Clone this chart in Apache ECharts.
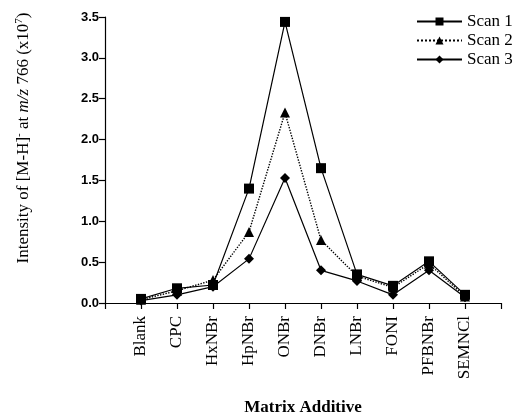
<!DOCTYPE html>
<html>
<head>
<meta charset="utf-8">
<script src="https://cdn.jsdelivr.net/npm/echarts@6/dist/echarts.min.js"></script>
<style>html,body{margin:0;padding:0;background:#fff;}#c{width:521px;height:418px;}</style>
</head>
<body>
<div id="c"></div>
<script>
const categories = ['Blank','CPC','HxNBr','HpNBr','ONBr','DNBr','LNBr','FONI','PFBNBr','SEMNCl'];
const scan1 = [0.05, 0.18, 0.22, 1.40, 3.44, 1.65, 0.35, 0.21, 0.51, 0.10];
const scan2 = [0.04, 0.15, 0.28, 0.87, 2.33, 0.77, 0.33, 0.19, 0.48, 0.08];
const scan3 = [0.03, 0.10, 0.20, 0.54, 1.53, 0.40, 0.27, 0.10, 0.40, 0.07];
const yTicks = ['0.0','0.5','1.0','1.5','2.0','2.5','3.0','3.5'];

const serif = '"Liberation Serif", "DejaVu Serif", serif';
const sans = '"Liberation Sans", Arial, sans-serif';

function pts(arr){ return arr.map((v,i)=>[i+1, v]); }

const chart = echarts.init(document.getElementById('c'), null, {renderer:'canvas'});
const mk = (name, data, symbol, size, type) => ({
  name, type:'line', data: pts(data), symbol, symbolSize: size,
  itemStyle:{color:'#000'},
  lineStyle:{color:'#000', width: type==='dotted'?1.4:1.2, type},
  emphasis:{disabled:true}, animation:false
});
chart.setOption({
  animation:false,
  legend:{
    orient:'vertical', left:411, top:8, itemWidth:45, itemHeight:10, itemGap:2,
    textStyle:{fontFamily:serif, fontSize:17, color:'#000'},
    data:['Scan 1','Scan 2','Scan 3']
  },
  grid:{left:105, right:20, top:17, bottom:115, containLabel:false, outerBoundsMode:'none'},
  xAxis:{
    type:'value', min:0, max:11, interval:1,
    name:'Matrix Additive', nameLocation:'middle', nameGap:96,
    nameTextStyle:{fontFamily:serif, fontSize:17, fontWeight:'bold', color:'#000'},
    axisLine:{lineStyle:{color:'#000', width:1.2}},
    axisTick:{show:true, length:6, lineStyle:{color:'#000', width:1.2}},
    axisLabel:{rotate:90, margin:13, fontFamily:serif, fontSize:17, color:'#000',
      formatter:(v)=> (v>=1 && v<=categories.length) ? categories[v-1] : ''},
    splitLine:{show:false}
  },
  yAxis:{
    type:'value', min:0, max:3.5, interval:0.5,
    name:'Intensity of [M-H]{sup|-} at {it|m/z} 766 (x10{sup|7})',
    nameLocation:'middle', nameGap:71, nameRotate:90,
    nameTextStyle:{fontFamily:serif, fontSize:17, color:'#000', align:'center',
      padding:[0,0,0,44],
      rich:{
        sup:{fontFamily:serif, fontSize:11, color:'#000', padding:[0,0,9,0]},
        it:{fontFamily:serif, fontSize:17, fontStyle:'italic', color:'#000'}
      }},
    axisLine:{show:true, lineStyle:{color:'#000', width:1.2}},
    axisTick:{show:true, length:6, lineStyle:{color:'#000', width:1.2}},
    axisLabel:{margin:6, fontFamily:sans, fontWeight:'bold', fontSize:13, color:'#000',
      formatter:(v)=> yTicks[Math.round(v/0.5)]},
    splitLine:{show:false}
  },
  series:[
    mk('Scan 1', scan1, 'rect', 10, 'solid'),
    mk('Scan 2', scan2, 'triangle', 10, 'dotted'),
    mk('Scan 3', scan3, 'diamond', 10, 'solid')
  ]
});
</script>
</body>
</html>
